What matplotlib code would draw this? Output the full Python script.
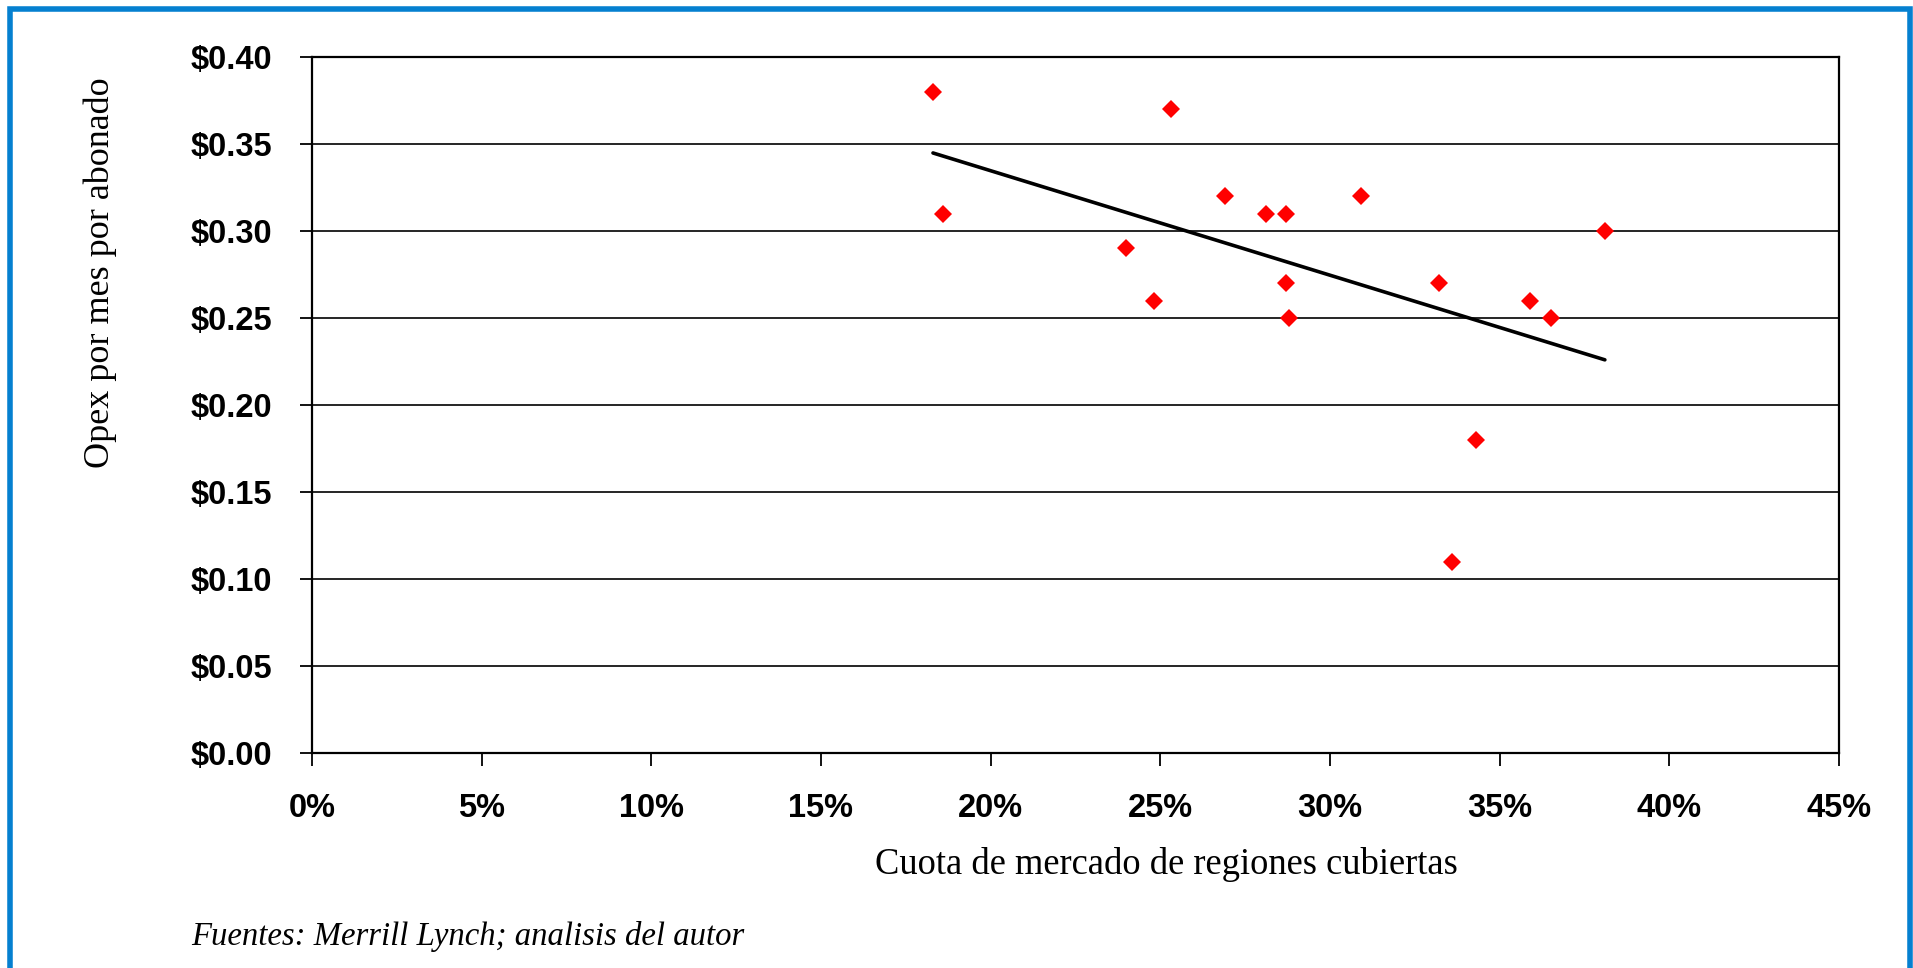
import numpy as np
import matplotlib
matplotlib.use("Agg")
import matplotlib.pyplot as plt
from matplotlib.patches import Rectangle
from matplotlib.ticker import FuncFormatter, MultipleLocator

# Cuota de mercado (%) y Opex por mes por abonado ($)
cuota = [18.3, 18.6, 25.3, 24.0, 24.8, 26.9, 28.1, 28.7, 28.7, 28.8,
         30.9, 33.2, 35.9, 36.5, 38.1, 34.3, 33.6]
opex = [0.38, 0.31, 0.37, 0.29, 0.26, 0.32, 0.31, 0.31, 0.27, 0.25,
        0.32, 0.27, 0.26, 0.25, 0.30, 0.18, 0.11]

W, H = 1913, 968
fig = plt.figure(figsize=(W / 100, H / 100), dpi=100)
fig.patch.set_facecolor("white")

# ejes en pixeles: izquierda 312, derecha 1839, arriba 57, abajo 753
ax = fig.add_axes([312 / W, 1 - 753 / H, (1839 - 312) / W, (753 - 57) / H])

ax.plot(cuota, opex, linestyle="none", marker="D", markersize=9,
        color="#FF0000", markeredgewidth=0, zorder=3)

# linea de tendencia (minimos cuadrados)
m, b = np.polyfit(cuota, opex, 1)
xs = np.array([min(cuota), max(cuota)])
ax.plot(xs, m * xs + b, color="black", linewidth=2.6, zorder=2,
        solid_capstyle="round")

ax.set_xlim(0, 45)
ax.set_ylim(0, 0.40)
ax.xaxis.set_major_locator(MultipleLocator(5))
ax.yaxis.set_major_locator(MultipleLocator(0.05))
ax.xaxis.set_major_formatter(FuncFormatter(lambda v, p: f"{v:.0f}%"))
ax.yaxis.set_major_formatter(FuncFormatter(lambda v, p: f"${v:.2f}"))
ax.grid(axis="y", color="black", linewidth=1.2)
ax.set_axisbelow(True)
for s in ax.spines.values():
    s.set_linewidth(1.6)
ax.tick_params(direction="out", length=9, width=1.3, pad=20)
for lab in ax.get_xticklabels() + ax.get_yticklabels():
    lab.set_fontfamily("Liberation Sans")
    lab.set_fontweight("bold")
    lab.set_fontsize(23.5)

fig.text(100 / W, 1 - 273 / H, "Opex por mes por abonado", rotation=90,
         ha="center", va="center", fontsize=26, family="Liberation Serif")
fig.text(1166 / W, 1 - 864 / H, "Cuota de mercado de regiones cubiertas",
         ha="center", va="center", fontsize=26.3, family="Liberation Serif")
fig.text(191 / W, 1 - 937 / H, "Fuentes: Merrill Lynch; analisis del autor",
         ha="left", va="center", fontsize=23.6, family="Liberation Serif",
         style="italic")

# marco azul
fig.patches.append(Rectangle((10 / W, -0.1), (1910 - 10) / W, 1.1 - 8.5 / H,
                             transform=fig.transFigure, fill=False,
                             edgecolor="#0580D0", linewidth=4))

fig.savefig("out.png", dpi=100)
